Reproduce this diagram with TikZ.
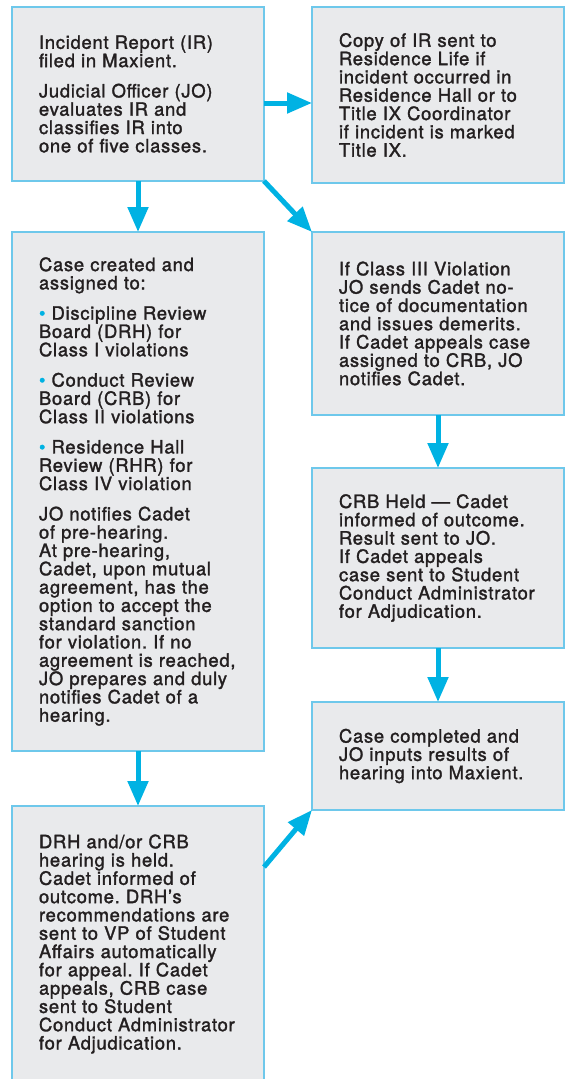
\documentclass[tikz,border=0pt]{standalone}
\usepackage{fontspec}
\setmainfont{TeX Gyre Heros}[LetterSpace=4, FakeBold=1.6]
\usetikzlibrary{positioning, arrows.meta}
\definecolor{flowblue}{RGB}{0,178,227}
\definecolor{edgeblue}{RGB}{110,200,235}
\definecolor{panelgray}{RGB}{233,234,236}
\definecolor{inkgray}{RGB}{35,31,32}
\def\bul{{\color{flowblue}\textbullet}~}
\frenchspacing

\begin{document}
\begin{tikzpicture}[x=1pt, y=-1pt,
    panel/.style={rectangle, draw=edgeblue, line width=1.5pt, fill=panelgray, minimum width=252pt, text width=198pt, inner xsep=27pt, outer sep=0pt, align=left, text=inkgray, font=\fontsize{18.4}{18.3}\selectfont},
    arrow/.style={line width=5pt, draw=flowblue, -{Triangle[length=25pt, width=20pt]}},
]
\useasboundingbox (0,0) rectangle (567,1079);
\clip (0,0) rectangle (567,1079);

% Left column
\node (report) [panel, minimum height=174pt, anchor=north west] at (12,7) {Incident Report (IR)\\ filed in Maxient.\\[12pt] Judicial Officer (JO)\\ evaluates IR and\\ classifies IR into\\ one of five classes.};
\node (assign) [panel, minimum height=519pt, below=51pt of report] {Case created and\\ assigned to:\\[12pt] \bul Discipline Review\\ Board (DRH) for\\ Class I violations\\[12pt] \bul Conduct Review\\ Board (CRB) for\\ Class II violations\\[12pt] \bul Residence Hall\\ Review (RHR) for\\ Class IV violation\\[12pt] JO notifies Cadet\\ of pre-hearing.\\ At pre-hearing,\\ Cadet, upon mutual\\ agreement, has the\\ option to accept the\\ standard sanction\\ for violation. If no\\ agreement~is~reached,\\ JO prepares and duly\\ notifies Cadet of a\\ hearing.};
\node (hearing) [panel, minimum height=276pt, below=55pt of assign] {DRH and/or CRB\\ hearing is held.\\ Cadet informed of\\ outcome. DRH’s\\ recommendations~are\\ sent to VP of Student\\ Affairs automatically\\ for appeal. If Cadet\\ appeals, CRB case\\ sent to Student\\ Conduct~Administrator\\ for Adjudication.};

% Right column
\node (copy) [panel, minimum height=176pt, right=48pt of report.north east, anchor=north west] {Copy of IR sent to\\ Residence Life if\\ incident occurred in\\ Residence Hall or to\\ Title IX Coordinator\\ if incident is marked\\ Title IX.};
\node (classthree) [panel, minimum height=183pt, right=48pt of assign.north east, anchor=north west] {If Class III Violation\\ JO sends Cadet no-\\ tice of documentation\\ and issues demerits.\\ If Cadet appeals case\\ assigned to CRB, JO\\ notifies Cadet.};
\node (crbheld) [panel, minimum height=180pt, below=53pt of classthree] {CRB Held — Cadet\\ informed of outcome.\\ Result sent to JO.\\ If Cadet appeals\\ case sent to Student\\ Conduct~Administrator\\ for Adjudication.};
\node (done) [panel, minimum height=108pt, below=54pt of crbheld] {Case completed and\\ JO inputs results of\\ hearing into Maxient.};

% Arrows
\draw [arrow] ([yshift=-9pt]report.east) -- ([yshift=-9pt]report.east -| copy.west);
\draw [arrow] (report) -- (assign);
\draw [arrow] (report.south east) -- (classthree.north west);
\draw [arrow] (classthree) -- (crbheld);
\draw [arrow] (crbheld) -- (done);
\draw [arrow] (assign) -- (hearing);
\draw [arrow] ([yshift=-61pt]hearing.north east) -- (done.south west);

\end{tikzpicture}
\end{document}
